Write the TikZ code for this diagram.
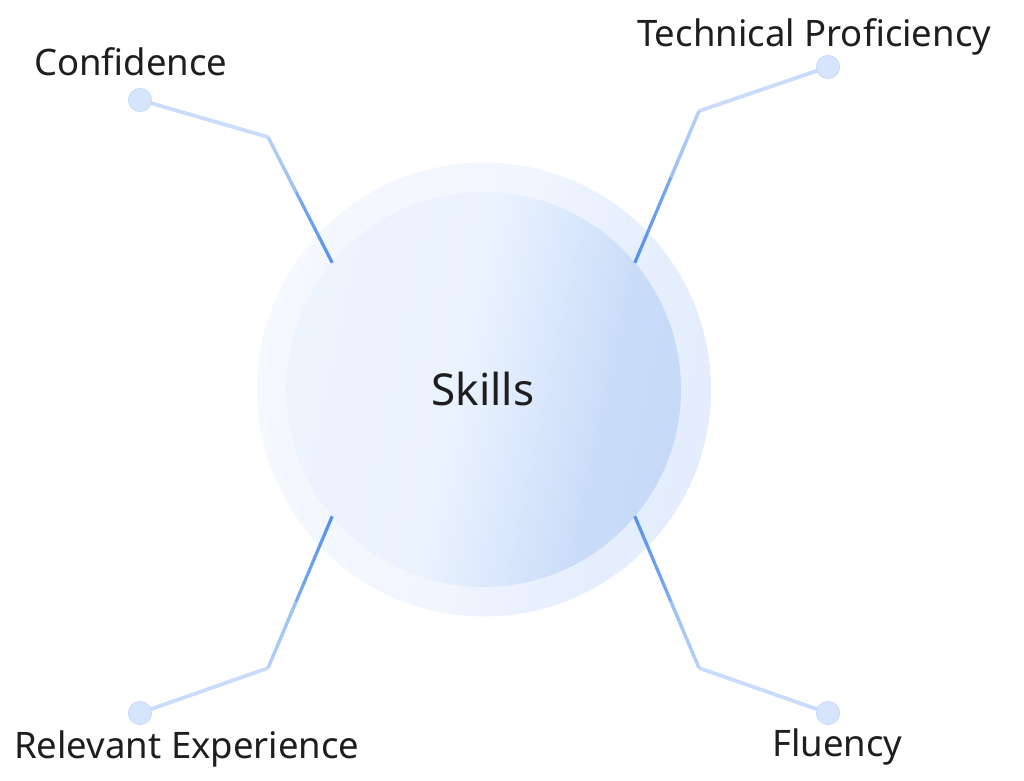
\documentclass[tikz,border=0pt]{standalone}
\usepackage{fontspec}
\setmainfont{Noto Sans}
\usetikzlibrary{calc}
\definecolor{txt}{HTML}{1E1E1E}
\definecolor{ringA}{HTML}{F5F8FE}
\definecolor{ringB}{HTML}{F1F6FE}
\definecolor{ringC}{HTML}{E7EFFD}
\definecolor{ringD}{HTML}{E3EDFD}
\definecolor{inA}{HTML}{EEF4FE}
\definecolor{inB}{HTML}{EAF2FE}
\definecolor{inC}{HTML}{DAE7FC}
\definecolor{inD}{HTML}{C9DCF8}
\definecolor{inE}{HTML}{C6DAF8}
\definecolor{lnPale}{HTML}{C9DCFB}
\definecolor{lnLight}{HTML}{B4D0F8}
\definecolor{lnMid}{HTML}{9DC0F5}
\definecolor{lnDark}{HTML}{5592EC}
\definecolor{lnDark2}{HTML}{7AAAF0}
\definecolor{dotF}{HTML}{D6E5FC}
\definecolor{dotD}{HTML}{C4D8FA}
\pgfdeclarehorizontalshading{innershade}{100bp}{color(0bp)=(inA); color(25bp)=(inA); color(47bp)=(inB); color(57bp)=(inC); color(66bp)=(inD); color(75bp)=(inE); color(100bp)=(inE)}
\pgfdeclarehorizontalshading{ringshade}{100bp}{color(0bp)=(ringA); color(25bp)=(ringA); color(50bp)=(ringB); color(62bp)=(ringC); color(75bp)=(ringD); color(100bp)=(ringD)}
\tikzset{
  lbl/.style={font=\fontsize{36.5}{42}\selectfont, text=txt, inner sep=0pt},
  dotnode/.style={circle, fill=dotF, draw=dotD, line width=0.6pt, minimum size=23pt, inner sep=0pt},
  paleline/.style={line width=3.8pt, color=lnPale},
}
\newcommand\connector[3]{%
  \draw[paleline] (#1.center) -- (#2);
  \foreach \i in {0,...,24}{%
    \pgfmathsetmacro\ta{\i/25}%
    \pgfmathsetmacro\tb{(\i+1)/25+0.002}%
    \ifnum\i<11
      \pgfmathtruncatemacro\pp{100*\i/10}%
      \draw[line width=3.4pt, color=lnMid!\pp!lnLight] ($(#2)!\ta!(#3)$) -- ($(#2)!\tb!(#3)$);
    \else
      \pgfmathtruncatemacro\pp{100*(\i-11)/13}%
      \draw[line width=3.2pt, color=lnDark!\pp!lnDark2] ($(#2)!\ta!(#3)$) -- ($(#2)!\tb!(#3)$);
    \fi
  }%
}
\begin{document}
\begin{tikzpicture}[x=1pt,y=-1pt]
\useasboundingbox (0,0) rectangle (1024,780);
% circles
\node[circle, minimum size=454pt, inner sep=0pt, shading=ringshade, shading angle=-12] (outer) at (484,389.5) {};
\node[circle, minimum size=395pt, inner sep=0pt, shading=innershade, shading angle=-12] (inner) at (483.5,389.5) {};
\node[font=\fontsize{44}{50}\selectfont, text=txt, inner sep=0pt] (skills) at (483,389) {Skills};
% dots and elbows
\node[dotnode] (d1) at (140,100) {};
\node[dotnode] (d2) at (828,67) {};
\node[dotnode] (d3) at (140,713) {};
\node[dotnode] (d4) at (828,713) {};
\coordinate (e1) at (268,137);
\coordinate (e2) at (699,111);
\coordinate (e3) at (268,668);
\coordinate (e4) at (699,668);
\coordinate (s1) at (inner.140);
\coordinate (s2) at (inner.40);
\coordinate (s3) at (inner.220);
\coordinate (s4) at (inner.320);
\connector{d1}{e1}{s1}
\connector{d2}{e2}{s2}
\connector{d3}{e3}{s3}
\connector{d4}{e4}{s4}
\node[dotnode] at (d1) {};
\node[dotnode] at (d2) {};
\node[dotnode] at (d3) {};
\node[dotnode] at (d4) {};
% labels
\node[lbl, anchor=base west] (l1) at (34,75) {Confidence};
\node[lbl, anchor=base west] (l2) at (637,46) {Technical Proficiency};
\node[lbl, anchor=base west] (l3) at (14,758) {Relevant Experience};
\node[lbl, anchor=base west] (l4) at (772,756) {Fluency};
\end{tikzpicture}
\end{document}
